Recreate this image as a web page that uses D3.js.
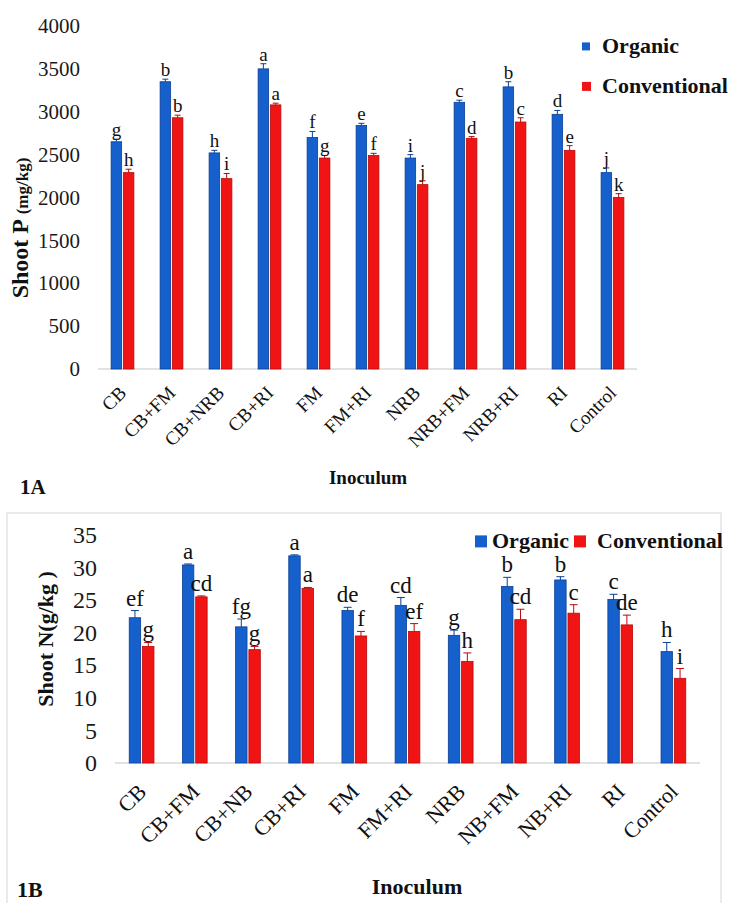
<!DOCTYPE html>
<html>
<head>
<meta charset="utf-8">
<script src="https://cdn.jsdelivr.net/npm/d3@7"></script>
<style>
  body { margin: 0; background: #fff; }
  text { font-family: "Liberation Serif", "Times New Roman", serif; }
</style>
</head>
<body>
<script>
// ---- data, panel 1A (shoot P, mg/kg)
var categoriesA = ["CB", "CB+FM", "CB+NRB", "CB+RI", "FM", "FM+RI", "NRB", "NRB+FM", "NRB+RI", "RI", "Control"];
var organicA = [2650, 3350, 2520, 3500, 2700, 2840, 2460, 3110, 3290, 2970, 2290];
var conventionalA = [2290, 2930, 2220, 3080, 2460, 2490, 2150, 2690, 2880, 2550, 2000];
var organicErrA = [30, 30, 30, 60, 70, 25, 40, 25, 60, 45, 55];
var conventionalErrA = [40, 30, 60, 20, 30, 25, 45, 20, 50, 55, 45];
var organicLettersA = ["g", "b", "h", "a", "f", "e", "i", "c", "b", "d", "j"];
var conventionalLettersA = ["h", "b", "i", "a", "g", "f", "j", "d", "c", "e", "k"];
var yTicksA = [0, 500, 1000, 1500, 2000, 2500, 3000, 3500, 4000];

// ---- data, panel 1B (shoot N, g/kg)
var categoriesB = ["CB", "CB+FM", "CB+NB", "CB+RI", "FM", "FM+RI", "NRB", "NB+FM", "NB+RI", "RI", "Control"];
var organicB = [22.3, 30.4, 20.9, 31.8, 23.4, 24.2, 19.6, 27.1, 28.1, 25.1, 17.1];
var conventionalB = [17.9, 25.5, 17.4, 26.8, 19.5, 20.2, 15.6, 22.0, 23.0, 21.2, 13.0];
var organicErrB = [1.1, 0.15, 1.2, 0.15, 0.5, 1.2, 0.8, 1.4, 0.5, 0.8, 1.4];
var conventionalErrB = [0.6, 0.15, 0.5, 0.15, 0.7, 1.2, 1.3, 1.6, 1.3, 1.5, 1.5];
var organicLettersB = ["ef", "a", "fg", "a", "de", "cd", "g", "b", "b", "c", "h"];
var conventionalLettersB = ["g", "cd", "g", "a", "f", "ef", "h", "cd", "c", "de", "i"];
var yTicksB = [0, 5, 10, 15, 20, 25, 30, 35];

var seriesNames = ["Organic", "Conventional"];
var fills = ["#1560cc", "#f01414"];
var edges = ["#0b3f94", "#b80a0a"];

var svg = d3.select("body").append("svg")
    .attr("width", 734)
    .attr("height", 903);

svg.append("rect").attr("width", 734).attr("height", 903).attr("fill", "#fff");

// frame round panel B
svg.append("rect")
    .attr("x", 7).attr("y", 513)
    .attr("width", 714).attr("height", 420)
    .attr("fill", "none")
    .attr("stroke", "#e4e4e4")
    .attr("stroke-width", 1.5);

function drawPanel(p) {
  var g = svg.append("g");

  var x = d3.scaleBand().domain(p.cats).range([p.x0, p.x1]);
  var y = d3.scaleLinear().domain([0, p.ymax]).range([p.yb, p.yt]);
  var bw = x.bandwidth() * 0.215,
      gap = x.bandwidth() * 0.035;

  // y tick labels
  var yAxis = g.append("g")
      .attr("transform", "translate(" + p.tickX + ",0)")
      .call(d3.axisLeft(y).tickValues(p.ticks).tickSize(0).tickPadding(0).tickFormat(d3.format("d")));
  yAxis.select(".domain").remove();
  yAxis.selectAll("text")
      .style("font-family", "Liberation Serif")
      .style("font-size", p.tickFont + "px")
      .attr("fill", "#1a1a1a");

  // baseline
  g.append("line")
      .attr("x1", p.x0).attr("x2", p.x1)
      .attr("y1", y(0)).attr("y2", y(0))
      .attr("stroke", "#d9d9d9")
      .attr("stroke-width", 1.5);

  // x tick labels
  var xAxis = g.append("g")
      .attr("transform", "translate(0," + y(0) + ")")
      .call(d3.axisBottom(x).tickSize(0));
  xAxis.select(".domain").remove();
  xAxis.selectAll("text")
      .style("font-family", "Liberation Serif")
      .style("font-size", p.catFont + "px")
      .attr("fill", "#111")
      .attr("text-anchor", "end")
      .attr("y", 0).attr("dy", 0)
      .attr("transform", "translate(" + p.catDx + "," + p.catDy + ") rotate(-45)");

  var series = [
    {vals: p.org, errs: p.orgErr, letters: p.orgLet, off: -gap / 2 - bw},
    {vals: p.con, errs: p.conErr, letters: p.conLet, off: gap / 2}
  ];

  series.forEach(function(s, si) {
    var rows = p.cats.map(function(c, i) {
      return {cat: c, v: s.vals[i], e: s.errs[i], l: s.letters[i]};
    });
    var cx = function(d) { return x(d.cat) + x.bandwidth() / 2 + s.off + bw / 2; };

    g.selectAll(".bar" + si)
      .data(rows)
      .enter()
      .append("rect")
        .attr("class", "bar" + si)
        .attr("x", function(d) { return x(d.cat) + x.bandwidth() / 2 + s.off; })
        .attr("y", function(d) { return y(d.v); })
        .attr("width", bw)
        .attr("height", function(d) { return y(0) - y(d.v); })
        .attr("fill", fills[si])
        .attr("stroke", edges[si])
        .attr("stroke-width", 0.8);

    // error bars
    var eg = g.selectAll(".err" + si)
      .data(rows)
      .enter()
      .append("g")
        .attr("class", "err" + si)
        .attr("stroke", edges[si])
        .attr("stroke-width", 1);
    eg.append("line")
        .attr("x1", cx).attr("x2", cx)
        .attr("y1", function(d) { return y(d.v); })
        .attr("y2", function(d) { return y(d.v + d.e); });
    eg.append("line")
        .attr("x1", function(d) { return cx(d) - p.cap; })
        .attr("x2", function(d) { return cx(d) + p.cap; })
        .attr("y1", function(d) { return y(d.v + d.e); })
        .attr("y2", function(d) { return y(d.v + d.e); });

    // letters
    g.selectAll(".let" + si)
      .data(rows)
      .enter()
      .append("text")
        .attr("class", "let" + si)
        .attr("x", cx)
        .attr("y", function(d) { return y(d.v + d.e) - p.letGap; })
        .attr("text-anchor", "middle")
        .style("font-size", p.letFont + "px")
        .attr("fill", "#111")
        .text(function(d) { return d.l; });
  });

  // y axis title
  var yt = g.append("text")
      .attr("transform", "translate(" + p.ytX + "," + p.ytY + ") rotate(-90)")
      .attr("text-anchor", "middle")
      .attr("dy", "0.35em")
      .style("font-weight", "bold")
      .attr("fill", "#111");
  p.ytParts.forEach(function(t) {
    yt.append("tspan").style("font-size", t[1] + "px").text(t[0]);
  });

  // x axis title
  g.append("text")
      .attr("x", p.xtX).attr("y", p.xtY)
      .attr("text-anchor", "middle")
      .style("font-weight", "bold")
      .style("font-size", p.xtFont + "px")
      .attr("fill", "#111")
      .text("Inoculum");

  // panel tag
  g.append("text")
      .attr("x", p.tagX).attr("y", p.tagY)
      .style("font-weight", "bold")
      .style("font-size", p.tagFont + "px")
      .attr("fill", "#111")
      .text(p.tag);

  // legend
  p.legend.forEach(function(l, i) {
    g.append("rect")
        .attr("x", l[0]).attr("y", l[1] - l[3] / 2 - 0.3 * p.legFont)
        .attr("width", l[3]).attr("height", l[3])
        .attr("fill", fills[i]);
    g.append("text")
        .attr("x", l[2]).attr("y", l[1])
        .style("font-weight", "bold")
        .style("font-size", p.legFont + "px")
        .attr("fill", "#111")
        .text(seriesNames[i]);
  });
}

drawPanel({
  cats: categoriesA, org: organicA, con: conventionalA,
  orgErr: organicErrA, conErr: conventionalErrA,
  orgLet: organicLettersA, conLet: conventionalLettersA,
  ticks: yTicksA, ymax: 4000,
  x0: 98, x1: 637, yb: 369, yt: 26,
  tickX: 80, tickFont: 21,
  catFont: 19, catDx: 5, catDy: 25,
  cap: 3, letGap: 3, letFont: 19,
  ytX: 22, ytY: 228, ytParts: [["Shoot  P ", 24], ["(mg/kg)", 17]],
  xtX: 368, xtY: 484, xtFont: 19,
  tag: "1A", tagX: 20, tagY: 494, tagFont: 21,
  legend: [[582, 53, 602, 8], [582, 93, 602, 9]], legFont: 22
});

drawPanel({
  cats: categoriesB, org: organicB, con: conventionalB,
  orgErr: organicErrB, conErr: conventionalErrB,
  orgLet: organicLettersB, conLet: conventionalLettersB,
  ticks: yTicksB, ymax: 35,
  x0: 115, x1: 700, yb: 763, yt: 535,
  tickX: 97, tickFont: 24,
  catFont: 22, catDx: 6, catDy: 30,
  cap: 4, letGap: 5, letFont: 23,
  ytX: 47, ytY: 639, ytParts: [["Shoot  N", 22], ["(g/kg )", 22]],
  xtX: 417, xtY: 894, xtFont: 22,
  tag: "1B", tagX: 17, tagY: 897, tagFont: 22,
  legend: [[475, 548, 492, 12], [574, 548, 597, 12]], legFont: 22
});
</script>
</body>
</html>
